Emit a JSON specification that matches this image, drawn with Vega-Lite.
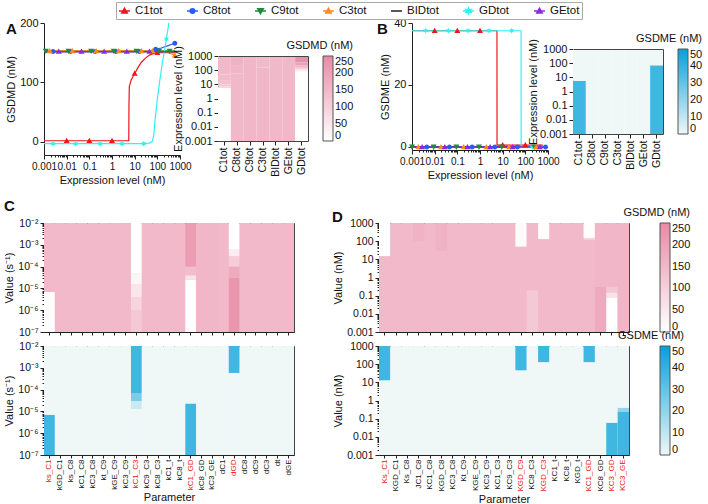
{
"$schema":"https://vega.github.io/schema/vega-lite/v6.json",
"padding":{"left":3,"top":1,"right":0,"bottom":0},
"background":"white",
"config":{
  "font":"Liberation Sans",
  "view":{"stroke":"#444","strokeWidth":1},
  "axis":{"grid":false,"labelFontSize":11,"titleFontSize":11,"titleFontWeight":"normal","domainColor":"#222","tickColor":"#222","labelColor":"#111","titleColor":"#111","tickSize":4,"labelPadding":2,"titlePadding":3},
  "legend":{"titleFontWeight":"normal","titleFontSize":11,"labelFontSize":11,"titleColor":"#111","labelColor":"#111","labelOverlap":false},
  "title":{"fontSize":15,"fontWeight":"bold","anchor":"start","frame":"group","color":"#111"}
},
"datasets":{
"lineA":[
{"s":"C1tot","x":0.001,"y":2},{"s":"C1tot","x":5.5,"y":2},{"s":"C1tot","x":5.6,"y":60},{"s":"C1tot","x":5.8,"y":93},{"s":"C1tot","x":7,"y":104},{"s":"C1tot","x":10,"y":115},{"s":"C1tot","x":15,"y":127},{"s":"C1tot","x":20,"y":134},{"s":"C1tot","x":30,"y":141},{"s":"C1tot","x":45,"y":146},{"s":"C1tot","x":70,"y":149},{"s":"C1tot","x":100,"y":150},{"s":"C1tot","x":600,"y":150},
{"s":"C8tot","x":0.001,"y":152},{"s":"C8tot","x":50,"y":152},{"s":"C8tot","x":85,"y":156},{"s":"C8tot","x":150,"y":158},{"s":"C8tot","x":300,"y":162},{"s":"C8tot","x":600,"y":166},
{"s":"C9tot","x":0.001,"y":153},{"s":"C9tot","x":600,"y":153},
{"s":"C3tot","x":0.001,"y":153},{"s":"C3tot","x":150,"y":153},{"s":"C3tot","x":300,"y":150},{"s":"C3tot","x":600,"y":146},
{"s":"BIDtot","x":0.001,"y":152},{"s":"BIDtot","x":600,"y":152},
{"s":"GDtot","x":0.001,"y":-3},{"s":"GDtot","x":20,"y":-3},{"s":"GDtot","x":45,"y":-2},{"s":"GDtot","x":60,"y":1},{"s":"GDtot","x":70,"y":12},{"s":"GDtot","x":80,"y":38},{"s":"GDtot","x":100,"y":72},{"s":"GDtot","x":130,"y":105},{"s":"GDtot","x":170,"y":135},{"s":"GDtot","x":210,"y":155},{"s":"GDtot","x":250,"y":173},{"s":"GDtot","x":300,"y":192},{"s":"GDtot","x":330,"y":205},
{"s":"GEtot","x":0.001,"y":152},{"s":"GEtot","x":600,"y":152}
],
"markA":[
{"s":"C1tot","x":0.01,"y":2},{"s":"C1tot","x":0.1,"y":2},{"s":"C1tot","x":1,"y":2},{"s":"C1tot","x":10,"y":115},{"s":"C1tot","x":100,"y":150},
{"s":"C8tot","x":0.0025,"y":152},{"s":"C8tot","x":0.015,"y":152},{"s":"C8tot","x":0.18,"y":152},{"s":"C8tot","x":1.5,"y":152},{"s":"C8tot","x":16,"y":152},{"s":"C8tot","x":85,"y":156},{"s":"C8tot","x":590,"y":166},
{"s":"C9tot","x":0.0012,"y":153},{"s":"C9tot","x":0.012,"y":153},{"s":"C9tot","x":0.12,"y":153},{"s":"C9tot","x":1.2,"y":153},{"s":"C9tot","x":12,"y":153},{"s":"C9tot","x":120,"y":153},{"s":"C9tot","x":350,"y":153},
{"s":"C3tot","x":0.0018,"y":153},{"s":"C3tot","x":0.018,"y":153},{"s":"C3tot","x":0.2,"y":153},{"s":"C3tot","x":2,"y":153},{"s":"C3tot","x":20,"y":153},{"s":"C3tot","x":60,"y":153},{"s":"C3tot","x":590,"y":146},
{"s":"GEtot","x":0.0045,"y":152},{"s":"GEtot","x":0.045,"y":152},{"s":"GEtot","x":0.45,"y":152},{"s":"GEtot","x":4.5,"y":152},{"s":"GEtot","x":45,"y":152},
{"s":"GDtot","x":0.0025,"y":-3},{"s":"GDtot","x":0.025,"y":-3},{"s":"GDtot","x":0.3,"y":-3},{"s":"GDtot","x":2.8,"y":-3},{"s":"GDtot","x":25,"y":-3},{"s":"GDtot","x":250,"y":173}
],
"lineB":[
{"s":"C1tot","x":0.001,"y":37.5},{"s":"C1tot","x":5.6,"y":37.5},{"s":"C1tot","x":5.65,"y":0.6},{"s":"C1tot","x":600,"y":0.6},
{"s":"C8tot","x":0.001,"y":0},{"s":"C8tot","x":800,"y":0},
{"s":"C9tot","x":0.001,"y":0},{"s":"C9tot","x":800,"y":0},
{"s":"C3tot","x":0.001,"y":0},{"s":"C3tot","x":800,"y":0},
{"s":"BIDtot","x":0.001,"y":0},{"s":"BIDtot","x":800,"y":0},
{"s":"GDtot","x":0.001,"y":37.5},{"s":"GDtot","x":65,"y":37.5},{"s":"GDtot","x":65.5,"y":0},{"s":"GDtot","x":600,"y":0},
{"s":"GEtot","x":0.001,"y":0},{"s":"GEtot","x":800,"y":0}
],
"markB":[
{"s":"C1tot","x":0.01,"y":37.5},{"s":"C1tot","x":0.1,"y":37.5},{"s":"C1tot","x":1,"y":37.5},{"s":"C1tot","x":10,"y":0.6},{"s":"C1tot","x":100,"y":0.6},
{"s":"GDtot","x":0.004,"y":37.5},{"s":"GDtot","x":0.04,"y":37.5},{"s":"GDtot","x":0.3,"y":37.5},{"s":"GDtot","x":2.5,"y":37.5},{"s":"GDtot","x":25,"y":37.5},{"s":"GDtot","x":200,"y":0},
{"s":"C9tot","x":0.001,"y":0},{"s":"C9tot","x":0.009,"y":0},{"s":"C9tot","x":0.09,"y":0},{"s":"C9tot","x":0.9,"y":0},{"s":"C9tot","x":9,"y":0},{"s":"C9tot","x":250,"y":0},
{"s":"C3tot","x":0.0019,"y":0},{"s":"C3tot","x":0.019,"y":0},{"s":"C3tot","x":0.19,"y":0},{"s":"C3tot","x":1.9,"y":0},{"s":"C3tot","x":19,"y":0},{"s":"C3tot","x":300,"y":0},
{"s":"GEtot","x":0.0028,"y":0},{"s":"GEtot","x":0.028,"y":0},{"s":"GEtot","x":0.28,"y":0},{"s":"GEtot","x":2.8,"y":0},{"s":"GEtot","x":28,"y":0},{"s":"GEtot","x":440,"y":0},
{"s":"C8tot","x":0.0045,"y":0},{"s":"C8tot","x":0.045,"y":0},{"s":"C8tot","x":0.45,"y":0},{"s":"C8tot","x":4.5,"y":0},{"s":"C8tot","x":45,"y":0},{"s":"C8tot","x":780,"y":0}
],
"heatA":[
{"p":"C1tot","lo":0.001,"hi":5.5,"v":0},{"p":"C1tot","lo":5.5,"hi":7,"v":90},{"p":"C1tot","lo":7,"hi":10,"v":115},{"p":"C1tot","lo":10,"hi":20,"v":132},{"p":"C1tot","lo":20,"hi":50,"v":145},{"p":"C1tot","lo":50,"hi":1000,"v":150},
{"p":"C8tot","lo":0.001,"hi":60,"v":152},{"p":"C8tot","lo":60,"hi":200,"v":157},{"p":"C8tot","lo":200,"hi":1000,"v":163},
{"p":"C9tot","lo":0.001,"hi":1000,"v":153},
{"p":"C3tot","lo":0.001,"hi":150,"v":153},{"p":"C3tot","lo":150,"hi":1000,"v":148},
{"p":"BIDtot","lo":0.001,"hi":1000,"v":152},
{"p":"GEtot","lo":0.001,"hi":1000,"v":152},
{"p":"GDtot","lo":0.001,"hi":80,"v":0},{"p":"GDtot","lo":80,"hi":110,"v":40},{"p":"GDtot","lo":110,"hi":150,"v":100},{"p":"GDtot","lo":150,"hi":220,"v":150},{"p":"GDtot","lo":220,"hi":350,"v":200},{"p":"GDtot","lo":350,"hi":1000,"v":235}
],
"heatB":[
{"p":"C1tot","lo":0.001,"hi":5.6,"v":37.5},{"p":"C1tot","lo":5.6,"hi":1000,"v":0},
{"p":"C8tot","lo":0.001,"hi":1000,"v":0},{"p":"C9tot","lo":0.001,"hi":1000,"v":0},{"p":"C3tot","lo":0.001,"hi":1000,"v":0},{"p":"BIDtot","lo":0.001,"hi":1000,"v":0},{"p":"GEtot","lo":0.001,"hi":1000,"v":0},
{"p":"GDtot","lo":0.001,"hi":70,"v":37.5},{"p":"GDtot","lo":70,"hi":1000,"v":0}
],
"cD":[
{"p":"ks_C1","lo":1e-7,"hi":7e-6,"v":0},{"p":"ks_C1","lo":7e-6,"hi":0.01,"v":150},
{"p":"kGD_C1","lo":1e-7,"hi":0.01,"v":150},{"p":"ks_C8","lo":1e-7,"hi":0.01,"v":150},{"p":"kC1_C8","lo":1e-7,"hi":0.01,"v":150},{"p":"kC3_C8","lo":1e-7,"hi":0.01,"v":150},{"p":"kt_C9","lo":1e-7,"hi":0.01,"v":150},{"p":"kGE_C9","lo":1e-7,"hi":0.01,"v":150},{"p":"kC3_C9","lo":1e-7,"hi":0.01,"v":150},
{"p":"kC1_C3","lo":1e-7,"hi":1e-6,"v":115},{"p":"kC1_C3","lo":1e-6,"hi":4e-6,"v":90},{"p":"kC1_C3","lo":4e-6,"hi":1.5e-5,"v":55},{"p":"kC1_C3","lo":1.5e-5,"hi":5e-5,"v":20},{"p":"kC1_C3","lo":5e-5,"hi":0.01,"v":0},
{"p":"kC9_C3","lo":1e-7,"hi":0.01,"v":150},{"p":"kC8_C3","lo":1e-7,"hi":0.01,"v":150},{"p":"kC1_t","lo":1e-7,"hi":0.01,"v":150},{"p":"kC8_t","lo":1e-7,"hi":0.01,"v":150},
{"p":"kC1_GD","lo":1e-7,"hi":2.5e-5,"v":0},{"p":"kC1_GD","lo":2.5e-5,"hi":4e-5,"v":60},{"p":"kC1_GD","lo":4e-5,"hi":1e-4,"v":140},{"p":"kC1_GD","lo":1e-4,"hi":0.01,"v":210},
{"p":"kC8_GD","lo":1e-7,"hi":0.01,"v":155},{"p":"kC3_GE","lo":1e-7,"hi":0.01,"v":155},{"p":"dC1","lo":1e-7,"hi":0.01,"v":150},
{"p":"dGD","lo":1e-7,"hi":3e-5,"v":225},{"p":"dGD","lo":3e-5,"hi":1e-4,"v":180},{"p":"dGD","lo":1e-4,"hi":3e-4,"v":110},{"p":"dGD","lo":3e-4,"hi":6e-4,"v":40},{"p":"dGD","lo":6e-4,"hi":0.01,"v":0},
{"p":"dC8","lo":1e-7,"hi":0.01,"v":150},{"p":"dC9","lo":1e-7,"hi":0.01,"v":150},{"p":"dC3","lo":1e-7,"hi":0.01,"v":150},{"p":"dt","lo":1e-7,"hi":0.01,"v":150},{"p":"dGE","lo":1e-7,"hi":0.01,"v":150}
],
"cE":[
{"p":"ks_C1","lo":1e-7,"hi":7e-6,"v":37.5},{"p":"ks_C1","lo":7e-6,"hi":0.01,"v":0},
{"p":"kGD_C1","lo":1e-7,"hi":0.01,"v":0},{"p":"ks_C8","lo":1e-7,"hi":0.01,"v":0},{"p":"kC1_C8","lo":1e-7,"hi":0.01,"v":0},{"p":"kC3_C8","lo":1e-7,"hi":0.01,"v":0},{"p":"kt_C9","lo":1e-7,"hi":0.01,"v":0},{"p":"kGE_C9","lo":1e-7,"hi":0.01,"v":0},{"p":"kC3_C9","lo":1e-7,"hi":0.01,"v":0},
{"p":"kC1_C3","lo":1e-7,"hi":1.3e-5,"v":0},{"p":"kC1_C3","lo":1.3e-5,"hi":3e-5,"v":8},{"p":"kC1_C3","lo":3e-5,"hi":7e-5,"v":25},{"p":"kC1_C3","lo":7e-5,"hi":0.01,"v":37.5},
{"p":"kC9_C3","lo":1e-7,"hi":0.01,"v":0},{"p":"kC8_C3","lo":1e-7,"hi":0.01,"v":0},{"p":"kC1_t","lo":1e-7,"hi":0.01,"v":0},{"p":"kC8_t","lo":1e-7,"hi":0.01,"v":0},
{"p":"kC1_GD","lo":1e-7,"hi":2.3e-5,"v":37.5},{"p":"kC1_GD","lo":2.3e-5,"hi":0.01,"v":0},
{"p":"kC8_GD","lo":1e-7,"hi":0.01,"v":0},{"p":"kC3_GE","lo":1e-7,"hi":0.01,"v":0},{"p":"dC1","lo":1e-7,"hi":0.01,"v":0},
{"p":"dGD","lo":1e-7,"hi":5.8e-4,"v":0},{"p":"dGD","lo":5.8e-4,"hi":0.01,"v":37.5},
{"p":"dC8","lo":1e-7,"hi":0.01,"v":0},{"p":"dC9","lo":1e-7,"hi":0.01,"v":0},{"p":"dC3","lo":1e-7,"hi":0.01,"v":0},{"p":"dt","lo":1e-7,"hi":0.01,"v":0},{"p":"dGE","lo":1e-7,"hi":0.01,"v":0}
],
"dD":[
{"p":"Ks_C1","lo":0.001,"hi":15,"v":150},{"p":"Ks_C1","lo":15,"hi":1000,"v":0},
{"p":"KGD_C1","lo":0.001,"hi":1000,"v":150},{"p":"Ks_C8","lo":0.001,"hi":1000,"v":150},
{"p":"JC1_C8","lo":0.001,"hi":100,"v":150},{"p":"JC1_C8","lo":100,"hi":1000,"v":165},
{"p":"KC1_C8","lo":0.001,"hi":1000,"v":150},
{"p":"KGD_C8","lo":0.001,"hi":30,"v":150},{"p":"KGD_C8","lo":30,"hi":1000,"v":162},
{"p":"KC3_C8","lo":0.001,"hi":1000,"v":150},{"p":"Kt_C9","lo":0.001,"hi":1000,"v":150},{"p":"KGE_C9","lo":0.001,"hi":1000,"v":150},{"p":"KC3_C9","lo":0.001,"hi":1000,"v":150},{"p":"KC1_C3","lo":0.001,"hi":1000,"v":150},{"p":"KC9_C3","lo":0.001,"hi":1000,"v":150},
{"p":"KGD_C9","lo":0.001,"hi":50,"v":150},{"p":"KGD_C9","lo":50,"hi":1000,"v":8},
{"p":"KC8_C3","lo":0.001,"hi":0.2,"v":115},{"p":"KC8_C3","lo":0.2,"hi":1000,"v":150},
{"p":"KGD_C3","lo":0.001,"hi":130,"v":150},{"p":"KGD_C3","lo":130,"hi":1000,"v":5},
{"p":"KC1_t","lo":0.001,"hi":1000,"v":150},{"p":"KC8_t","lo":0.001,"hi":1000,"v":150},{"p":"KGD_t","lo":0.001,"hi":1000,"v":150},
{"p":"KC1_GD","lo":0.001,"hi":120,"v":150},{"p":"KC1_GD","lo":120,"hi":150,"v":90},{"p":"KC1_GD","lo":150,"hi":1000,"v":5},
{"p":"KC8_GD","lo":0.001,"hi":0.3,"v":180},{"p":"KC8_GD","lo":0.3,"hi":1000,"v":155},
{"p":"KC3_GD","lo":0.001,"hi":0.08,"v":0},{"p":"KC3_GD","lo":0.08,"hi":0.15,"v":60},{"p":"KC3_GD","lo":0.15,"hi":0.3,"v":120},{"p":"KC3_GD","lo":0.3,"hi":1000,"v":155},
{"p":"KC3_GE","lo":0.001,"hi":1000,"v":158}
],
"dE":[
{"p":"Ks_C1","lo":0.001,"hi":13,"v":0},{"p":"Ks_C1","lo":13,"hi":1000,"v":37.5},
{"p":"KGD_C1","lo":0.001,"hi":1000,"v":0},{"p":"Ks_C8","lo":0.001,"hi":1000,"v":0},{"p":"JC1_C8","lo":0.001,"hi":1000,"v":0},{"p":"KC1_C8","lo":0.001,"hi":1000,"v":0},{"p":"KGD_C8","lo":0.001,"hi":1000,"v":0},{"p":"KC3_C8","lo":0.001,"hi":1000,"v":0},{"p":"Kt_C9","lo":0.001,"hi":1000,"v":0},{"p":"KGE_C9","lo":0.001,"hi":1000,"v":0},{"p":"KC3_C9","lo":0.001,"hi":1000,"v":0},{"p":"KC1_C3","lo":0.001,"hi":1000,"v":0},{"p":"KC9_C3","lo":0.001,"hi":1000,"v":0},
{"p":"KGD_C9","lo":0.001,"hi":46,"v":0},{"p":"KGD_C9","lo":46,"hi":1000,"v":37.5},
{"p":"KC8_C3","lo":0.001,"hi":1000,"v":0},
{"p":"KGD_C3","lo":0.001,"hi":130,"v":0},{"p":"KGD_C3","lo":130,"hi":1000,"v":37.5},
{"p":"KC1_t","lo":0.001,"hi":1000,"v":0},{"p":"KC8_t","lo":0.001,"hi":1000,"v":0},{"p":"KGD_t","lo":0.001,"hi":1000,"v":0},
{"p":"KC1_GD","lo":0.001,"hi":130,"v":0},{"p":"KC1_GD","lo":130,"hi":1000,"v":37.5},
{"p":"KC8_GD","lo":0.001,"hi":1000,"v":0},
{"p":"KC3_GD","lo":0.001,"hi":0.06,"v":37.5},{"p":"KC3_GD","lo":0.06,"hi":1000,"v":0},
{"p":"KC3_GE","lo":0.001,"hi":0.25,"v":37.5},{"p":"KC3_GE","lo":0.25,"hi":0.4,"v":20},{"p":"KC3_GE","lo":0.4,"hi":1000,"v":0}
]
},
"resolve":{"scale":{"color":"independent"}},
"spacing":13,
"vconcat":[
{"hconcat":[
 {"hconcat":[
  {"width":136,"height":132,"view":{"stroke":null},
   "title":{"text":"A","dx":-38,"dy":24},
   "layer":[
    {"data":{"name":"lineA"},"mark":{"type":"line","strokeWidth":1.2,"clip":true},
     "encoding":{
      "x":{"field":"x","type":"quantitative","scale":{"type":"log","domain":[0.001,1000],"nice":false},
           "axis":{"title":"Expression level (nM)","values":[0.001,0.002,0.003,0.004,0.005,0.006,0.007,0.008,0.009,0.01,0.02,0.03,0.04,0.05,0.06,0.07,0.08,0.09,0.1,0.2,0.3,0.4,0.5,0.6,0.7,0.8,0.9,1,2,3,4,5,6,7,8,9,10,20,30,40,50,60,70,80,90,100,200,300,400,500,600,700,800,900,1000],
           "labelExpr":"abs(log(datum.value)/LN10-round(log(datum.value)/LN10))<0.01 ? format(datum.value,'~g') : ''",
           "tickSize":{"condition":{"test":"abs(log(datum.value)/LN10-round(log(datum.value)/LN10))<0.01","value":4},"value":2},
           "labelOverlap":false,"labelFlush":false,"labelFontSize":10}},
      "y":{"field":"y","type":"quantitative","scale":{"domain":[-22,200],"nice":false,"zero":false},"axis":{"title":"GSDMD (nM)","values":[0,50,100,150,200],"labelOverlap":false}},
      "stroke":{"field":"s","type":"nominal","scale":{"domain":["C1tot","C8tot","C9tot","C3tot","BIDtot","GDtot","GEtot"],"range":["#f0141e","#2a5cf5","#1e8c3a","#ff8c1a","#222222","#2ef2f2","#8a2be2"]},
        "legend":{"orient":"none","legendX":72,"legendY":-21,"direction":"horizontal","columns":7,"columnPadding":21,"title":null,"symbolSize":120,"symbolStrokeWidth":1.5,"labelFontSize":11.5,"labelOffset":4,"padding":2,"strokeColor":"#aaaaaa","fillColor":"white","cornerRadius":0}}
     }},
    {"data":{"name":"markA"},"mark":{"type":"point","filled":true,"size":144,"opacity":1},
     "encoding":{
      "x":{"field":"x","type":"quantitative"},
      "y":{"field":"y","type":"quantitative"},
      "fill":{"field":"s","type":"nominal","scale":{"domain":["C1tot","C8tot","C9tot","C3tot","BIDtot","GDtot","GEtot"],"range":["#f0141e","#2a5cf5","#1e8c3a","#ff8c1a","#222222","#2ef2f2","#8a2be2"]},
        "legend":{"orient":"none","legendX":72,"legendY":-21,"direction":"horizontal","columns":7,"columnPadding":21,"title":null,"symbolSize":120,"symbolStrokeWidth":1.5,"labelFontSize":11.5,"labelOffset":4,"padding":2,"strokeColor":"#aaaaaa","fillColor":"white","cornerRadius":0}},
      "shape":{"field":"s","type":"nominal","scale":{"domain":["C1tot","C8tot","C9tot","C3tot","BIDtot","GDtot","GEtot"],"range":["M-1,0H1M0,-0.5L0.5,0.38H-0.5Z","M-1,0H1M0.42,0A0.42,0.42,0,1,1,-0.42,0A0.42,0.42,0,1,1,0.42,0Z","M-1,0H1M0,0.5L0.5,-0.38H-0.5Z","M-1,0H1M0,-0.5L0.5,0.38H-0.5Z","M-1,0H1","M-1,0H1M0,-0.5L0.13,-0.2L0.43,-0.25L0.23,0L0.43,0.25L0.13,0.2L0,0.5L-0.13,0.2L-0.43,0.25L-0.23,0L-0.43,-0.25L-0.13,-0.2Z","M-1,0H1M0,-0.5L0.5,0.38H-0.5Z"]},
        "legend":{"orient":"none","legendX":72,"legendY":-21,"direction":"horizontal","columns":7,"columnPadding":21,"title":null,"symbolSize":120,"symbolStrokeWidth":1.5,"labelFontSize":11.5,"labelOffset":4,"padding":2,"strokeColor":"#aaaaaa","fillColor":"white","cornerRadius":0}}
     }}
   ]},
  {"width":90,"height":118,"view":{"stroke":null},
   "layer":[
    {"data":{"name":"heatA"},"mark":"rect",
     "encoding":{
      "x":{"field":"p","type":"nominal","scale":{"domain":["C1tot","C8tot","C9tot","C3tot","BIDtot","GEtot","GDtot"],"paddingInner":0,"paddingOuter":0},"axis":{"title":null,"labelAngle":-90,"labelFontSize":10.5,"domainColor":"#444"}},
      "y":{"field":"lo","type":"quantitative","scale":{"type":"log","domain":[0.001,1000],"nice":false,"range":[118,33]},"axis":{"title":"Expression level (nM)","values":[0.001,0.01,0.1,1,10,100,1000],"labelExpr":"format(datum.value,'~g')","titlePadding":1,"labelOverlap":false,"domainColor":"#444"}},
      "y2":{"field":"hi"},
      "color":{"field":"v","type":"quantitative","scale":{"domain":[0,250],"range":["#ffffff","#e88aa6"],"interpolate":"rgb"},
        "legend":{"orient":"none","direction":"vertical","legendX":68,"legendY":17,"title":"GSDMD (nM)","gradientLength":85,"gradientThickness":10,"values":[0,50,100,150,200,250],"titleAnchor":"end","titlePadding":5,"gradientStrokeColor":"#555","gradientStrokeWidth":1}}
     }},
    {"data":{"name":"heatA"},"mark":{"type":"rect","opacity":0},
     "encoding":{
      "x":{"field":"p","type":"nominal","axis":{"orient":"top","offset":-33,"labels":false,"ticks":false,"title":null,"domainColor":"#444"}},
      "y":{"field":"lo","type":"quantitative","axis":{"orient":"right","labels":false,"ticks":false,"title":null,"domainColor":"#444"}},
      "y2":{"field":"hi"}
     }}
   ],
   "resolve":{"axis":{"x":"independent","y":"independent"}}}
 ],"spacing":-20,"resolve":{"scale":{"color":"independent"}}},
 {"hconcat":[
  {"width":136,"height":127,"view":{"stroke":null},
   "title":{"text":"B","dx":-35,"dy":24},
   "layer":[
    {"data":{"name":"lineB"},"mark":{"type":"line","strokeWidth":1.2,"clip":true},
     "encoding":{
      "x":{"field":"x","type":"quantitative","scale":{"type":"log","domain":[0.001,1000],"nice":false},
           "axis":{"title":"Expression level (nM)","values":[0.001,0.002,0.003,0.004,0.005,0.006,0.007,0.008,0.009,0.01,0.02,0.03,0.04,0.05,0.06,0.07,0.08,0.09,0.1,0.2,0.3,0.4,0.5,0.6,0.7,0.8,0.9,1,2,3,4,5,6,7,8,9,10,20,30,40,50,60,70,80,90,100,200,300,400,500,600,700,800,900,1000],
           "labelExpr":"abs(log(datum.value)/LN10-round(log(datum.value)/LN10))<0.01 ? format(datum.value,'~g') : ''",
           "tickSize":{"condition":{"test":"abs(log(datum.value)/LN10-round(log(datum.value)/LN10))<0.01","value":4},"value":2},
           "labelOverlap":false,"labelFlush":false,"labelFontSize":10}},
      "y":{"field":"y","type":"quantitative","scale":{"domain":[-1,40],"nice":false,"zero":false},"axis":{"title":"GSDME (nM)","values":[0,10,20,30,40],"labelOverlap":false}},
      "stroke":{"field":"s","type":"nominal","scale":{"domain":["C1tot","C8tot","C9tot","C3tot","BIDtot","GDtot","GEtot"],"range":["#f0141e","#2a5cf5","#1e8c3a","#ff8c1a","#222222","#2ef2f2","#8a2be2"]},"legend":null}
     }},
    {"data":{"name":"markB"},"mark":{"type":"point","filled":true,"size":144,"opacity":1},
     "encoding":{
      "x":{"field":"x","type":"quantitative"},
      "y":{"field":"y","type":"quantitative"},
      "fill":{"field":"s","type":"nominal","scale":{"domain":["C1tot","C8tot","C9tot","C3tot","BIDtot","GDtot","GEtot"],"range":["#f0141e","#2a5cf5","#1e8c3a","#ff8c1a","#222222","#2ef2f2","#8a2be2"]},"legend":null},
      "shape":{"field":"s","type":"nominal","scale":{"domain":["C1tot","C8tot","C9tot","C3tot","BIDtot","GDtot","GEtot"],"range":["M-1,0H1M0,-0.5L0.5,0.38H-0.5Z","M-1,0H1M0.42,0A0.42,0.42,0,1,1,-0.42,0A0.42,0.42,0,1,1,0.42,0Z","M-1,0H1M0,0.5L0.5,-0.38H-0.5Z","M-1,0H1M0,-0.5L0.5,0.38H-0.5Z","M-1,0H1","M-1,0H1M0,-0.5L0.13,-0.2L0.43,-0.25L0.23,0L0.43,0.25L0.13,0.2L0,0.5L-0.13,0.2L-0.43,0.25L-0.23,0L-0.43,-0.25L-0.13,-0.2Z","M-1,0H1M0,-0.5L0.5,0.38H-0.5Z"]},"legend":null}
     }}
   ]},
  {"width":90,"height":111,"view":{"stroke":null},
   "layer":[
    {"data":{"name":"heatB"},"mark":"rect",
     "encoding":{
      "x":{"field":"p","type":"nominal","scale":{"domain":["C1tot","C8tot","C9tot","C3tot","BIDtot","GEtot","GDtot"],"paddingInner":0,"paddingOuter":0},"axis":{"title":null,"labelAngle":-90,"labelFontSize":10.5,"domainColor":"#444"}},
      "y":{"field":"lo","type":"quantitative","scale":{"type":"log","domain":[0.001,1000],"nice":false,"range":[111,26]},"axis":{"title":"Expression level (nM)","values":[0.001,0.01,0.1,1,10,100,1000],"labelExpr":"format(datum.value,'~g')","titlePadding":1,"labelOverlap":false,"domainColor":"#444"}},
      "y2":{"field":"hi"},
      "color":{"field":"v","type":"quantitative","scale":{"domain":[0,50],"range":["#eff7f7","#05a0dc"],"interpolate":"rgb"},
        "legend":{"orient":"none","direction":"vertical","legendX":63,"legendY":10,"title":"GSDME (nM)","gradientLength":85,"gradientThickness":10,"values":[0,10,20,30,40,50],"titleAnchor":"end","titlePadding":5,"gradientStrokeColor":"#555","gradientStrokeWidth":1}}
     }},
    {"data":{"name":"heatB"},"mark":{"type":"rect","opacity":0},
     "encoding":{
      "x":{"field":"p","type":"nominal","axis":{"orient":"top","offset":-26,"labels":false,"ticks":false,"title":null,"domainColor":"#444"}},
      "y":{"field":"lo","type":"quantitative","axis":{"orient":"right","labels":false,"ticks":false,"title":null,"domainColor":"#444"}},
      "y2":{"field":"hi"}
     }}
   ],
   "resolve":{"axis":{"x":"independent","y":"independent"}}}
 ],"spacing":-33,"resolve":{"scale":{"color":"independent"}}}
],"spacing":23,"resolve":{"scale":{"color":"independent"}}},
{"vconcat":[
 {"hconcat":[
  {"width":250,"height":109,"title":{"text":"C","dx":-40,"dy":0},
   "view":{"fill":"#f1b9ca"},
   "data":{"name":"cD"},"mark":"rect",
   "encoding":{
    "x":{"field":"p","type":"nominal","scale":{"domain":["ks_C1","kGD_C1","ks_C8","kC1_C8","kC3_C8","kt_C9","kGE_C9","kC3_C9","kC1_C3","kC9_C3","kC8_C3","kC1_t","kC8_t","kC1_GD","kC8_GD","kC3_GE","dC1","dGD","dC8","dC9","dC3","dt","dGE"],"paddingInner":0,"paddingOuter":0},"axis":{"labels":false,"title":null,"tickSize":3}},
    "y":{"field":"lo","type":"quantitative","scale":{"type":"log","domain":[1e-7,0.01],"nice":false},
         "axis":{"title":"Value (s⁻¹)","values":[1e-7,2e-7,3e-7,4e-7,5e-7,6e-7,7e-7,8e-7,9e-7,1e-6,2e-6,3e-6,4e-6,5e-6,6e-6,7e-6,8e-6,9e-6,1e-5,2e-5,3e-5,4e-5,5e-5,6e-5,7e-5,8e-5,9e-5,0.0001,0.0002,0.0003,0.0004,0.0005,0.0006,0.0007,0.0008,0.0009,0.001,0.002,0.003,0.004,0.005,0.006,0.007,0.008,0.009,0.01],
         "labelExpr":"abs(log(datum.value)/LN10-round(log(datum.value)/LN10))<0.01 ? '10' + ['⁻⁷','⁻⁶','⁻⁵','⁻⁴','⁻³','⁻²'][round(log(datum.value)/LN10)+7] : ''",
         "tickSize":{"condition":{"test":"abs(log(datum.value)/LN10-round(log(datum.value)/LN10))<0.01","value":4},"value":2},
         "labelOverlap":false,"labelFlush":false,"labelFontSize":10.5}},
    "y2":{"field":"hi"},
    "color":{"field":"v","type":"quantitative","scale":{"domain":[0,250],"range":["#ffffff","#e88aa6"],"interpolate":"rgb"},"legend":null}
   }},
  {"width":250,"height":109,"title":{"text":"D","dx":-47,"dy":22},
   "view":{"fill":"#f1b9ca"},
   "data":{"name":"dD"},"mark":"rect",
   "encoding":{
    "x":{"field":"p","type":"nominal","scale":{"domain":["Ks_C1","KGD_C1","Ks_C8","JC1_C8","KC1_C8","KGD_C8","KC3_C8","Kt_C9","KGE_C9","KC3_C9","KC1_C3","KC9_C3","KGD_C9","KC8_C3","KGD_C3","KC1_t","KC8_t","KGD_t","KC1_GD","KC8_GD","KC3_GD","KC3_GE"],"paddingInner":0,"paddingOuter":0},"axis":{"labels":false,"title":null,"tickSize":3}},
    "y":{"field":"lo","type":"quantitative","scale":{"type":"log","domain":[0.001,1000],"nice":false},
         "axis":{"title":"Value (nM)","values":[0.001,0.002,0.003,0.004,0.005,0.006,0.007,0.008,0.009,0.01,0.02,0.03,0.04,0.05,0.06,0.07,0.08,0.09,0.1,0.2,0.3,0.4,0.5,0.6,0.7,0.8,0.9,1,2,3,4,5,6,7,8,9,10,20,30,40,50,60,70,80,90,100,200,300,400,500,600,700,800,900,1000],
         "labelExpr":"abs(log(datum.value)/LN10-round(log(datum.value)/LN10))<0.01 ? format(datum.value,'~g') : ''",
         "tickSize":{"condition":{"test":"abs(log(datum.value)/LN10-round(log(datum.value)/LN10))<0.01","value":4},"value":2},
         "labelOverlap":false,"labelFlush":false,"labelFontSize":10.5}},
    "y2":{"field":"hi"},
    "color":{"field":"v","type":"quantitative","scale":{"domain":[0,250],"range":["#ffffff","#e88aa6"],"interpolate":"rgb"},
      "legend":{"orient":"none","direction":"vertical","legendX":244,"legendY":-16,"title":"GSDMD (nM)","gradientLength":109,"gradientThickness":10,"values":[0,50,100,150,200,250],"titleAnchor":"end","titlePadding":5,"gradientStrokeColor":"#555","gradientStrokeWidth":1}}
   }}
 ],"spacing":85,"bounds":"flush","resolve":{"scale":{"color":"independent"}}},
 {"hconcat":[
  {"width":250,"height":109,
   "view":{"fill":"#eff7f7"},
   "data":{"name":"cE"},"mark":"rect",
   "encoding":{
    "x":{"field":"p","type":"nominal","scale":{"domain":["ks_C1","kGD_C1","ks_C8","kC1_C8","kC3_C8","kt_C9","kGE_C9","kC3_C9","kC1_C3","kC9_C3","kC8_C3","kC1_t","kC8_t","kC1_GD","kC8_GD","kC3_GE","dC1","dGD","dC8","dC9","dC3","dt","dGE"],"paddingInner":0,"paddingOuter":0},
         "axis":{"title":"Parameter","labelAngle":-90,"labelFontSize":8,"tickSize":3,"labelPadding":1,"titlePadding":2,
           "labelColor":{"condition":{"test":"indexof(['ks_C1','kC1_C3','kC1_GD','dGD'], datum.value) >= 0","value":"#ee1111"},"value":"#111111"}}},
    "y":{"field":"lo","type":"quantitative","scale":{"type":"log","domain":[1e-7,0.01],"nice":false},
         "axis":{"title":"Value (s⁻¹)","values":[1e-7,2e-7,3e-7,4e-7,5e-7,6e-7,7e-7,8e-7,9e-7,1e-6,2e-6,3e-6,4e-6,5e-6,6e-6,7e-6,8e-6,9e-6,1e-5,2e-5,3e-5,4e-5,5e-5,6e-5,7e-5,8e-5,9e-5,0.0001,0.0002,0.0003,0.0004,0.0005,0.0006,0.0007,0.0008,0.0009,0.001,0.002,0.003,0.004,0.005,0.006,0.007,0.008,0.009,0.01],
         "labelExpr":"abs(log(datum.value)/LN10-round(log(datum.value)/LN10))<0.01 ? '10' + ['⁻⁷','⁻⁶','⁻⁵','⁻⁴','⁻³','⁻²'][round(log(datum.value)/LN10)+7] : ''",
         "tickSize":{"condition":{"test":"abs(log(datum.value)/LN10-round(log(datum.value)/LN10))<0.01","value":4},"value":2},
         "labelOverlap":false,"labelFlush":false,"labelFontSize":10.5}},
    "y2":{"field":"hi"},
    "color":{"field":"v","type":"quantitative","scale":{"domain":[0,50],"range":["#eff7f7","#05a0dc"],"interpolate":"rgb"},"legend":null}
   }},
  {"width":250,"height":109,
   "view":{"fill":"#eff7f7"},
   "data":{"name":"dE"},"mark":"rect",
   "encoding":{
    "x":{"field":"p","type":"nominal","scale":{"domain":["Ks_C1","KGD_C1","Ks_C8","JC1_C8","KC1_C8","KGD_C8","KC3_C8","Kt_C9","KGE_C9","KC3_C9","KC1_C3","KC9_C3","KGD_C9","KC8_C3","KGD_C3","KC1_t","KC8_t","KGD_t","KC1_GD","KC8_GD","KC3_GD","KC3_GE"],"paddingInner":0,"paddingOuter":0},
         "axis":{"title":"Parameter","labelAngle":-90,"labelFontSize":8,"tickSize":3,"labelPadding":1,"titlePadding":2,
           "labelColor":{"condition":{"test":"indexof(['Ks_C1','KGD_C9','KGD_C3','KC1_GD','KC3_GD','KC3_GE'], datum.value) >= 0","value":"#ee1111"},"value":"#111111"}}},
    "y":{"field":"lo","type":"quantitative","scale":{"type":"log","domain":[0.001,1000],"nice":false},
         "axis":{"title":"Value (nM)","values":[0.001,0.002,0.003,0.004,0.005,0.006,0.007,0.008,0.009,0.01,0.02,0.03,0.04,0.05,0.06,0.07,0.08,0.09,0.1,0.2,0.3,0.4,0.5,0.6,0.7,0.8,0.9,1,2,3,4,5,6,7,8,9,10,20,30,40,50,60,70,80,90,100,200,300,400,500,600,700,800,900,1000],
         "labelExpr":"abs(log(datum.value)/LN10-round(log(datum.value)/LN10))<0.01 ? format(datum.value,'~g') : ''",
         "tickSize":{"condition":{"test":"abs(log(datum.value)/LN10-round(log(datum.value)/LN10))<0.01","value":4},"value":2},
         "labelOverlap":false,"labelFlush":false,"labelFontSize":10.5}},
    "y2":{"field":"hi"},
    "color":{"field":"v","type":"quantitative","scale":{"domain":[0,50],"range":["#eff7f7","#05a0dc"],"interpolate":"rgb"},
      "legend":{"orient":"none","direction":"vertical","legendX":239,"legendY":-16,"title":"GSDME (nM)","gradientLength":109,"gradientThickness":10,"values":[0,10,20,30,40,50],"titleAnchor":"end","titlePadding":5,"gradientStrokeColor":"#555","gradientStrokeWidth":1}}
   }}
 ],"spacing":85,"bounds":"flush","resolve":{"scale":{"color":"independent"}}}
],"spacing":-9,"resolve":{"scale":{"color":"independent"}}}
]
}
